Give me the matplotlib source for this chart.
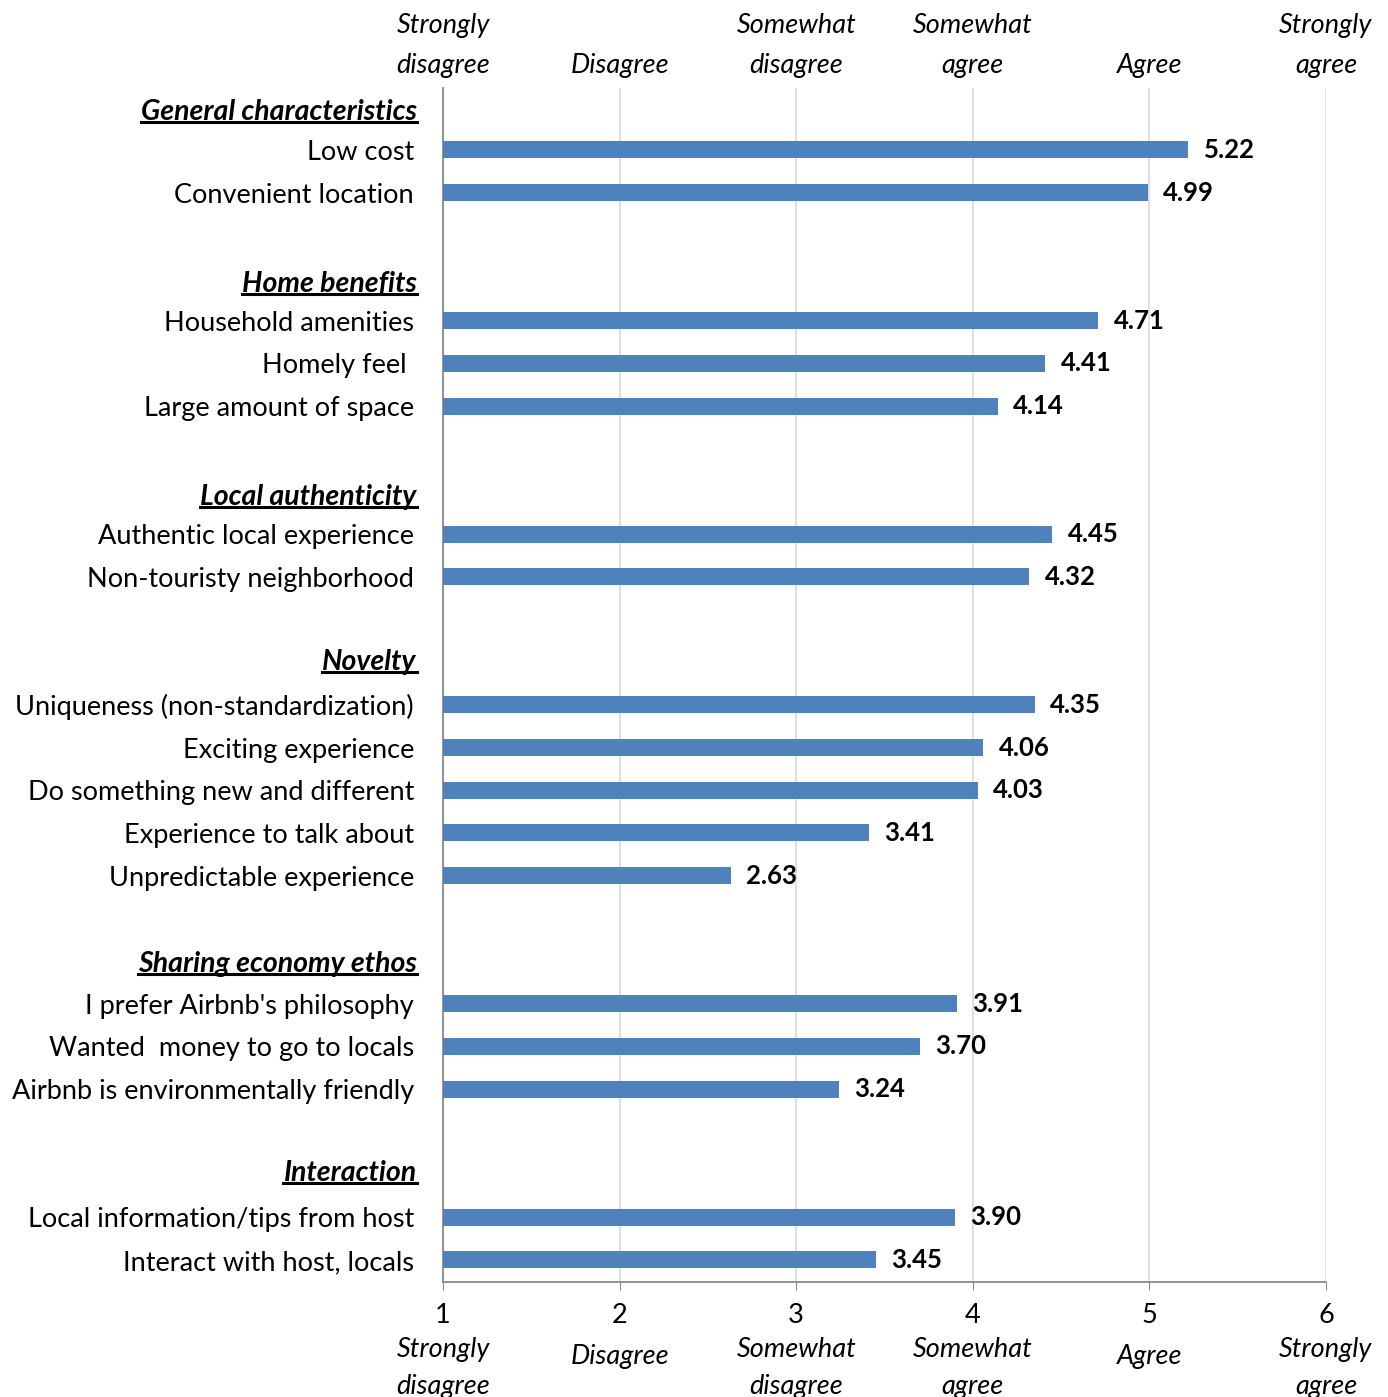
import matplotlib.pyplot as plt
from matplotlib.lines import Line2D
from matplotlib.transforms import blended_transform_factory

plt.rcParams['font.family'] = ['Lato', 'DejaVu Sans']

# data
items = ["Low cost", "Convenient location",
         "Household amenities", "Homely feel ", "Large amount of space",
         "Authentic local experience", "Non-touristy neighborhood",
         "Uniqueness (non-standardization)", "Exciting experience",
         "Do something new and different", "Experience to talk about",
         "Unpredictable experience",
         "I prefer Airbnb's philosophy", "Wanted  money to go to locals",
         "Airbnb is environmentally friendly",
         "Local information/tips from host", "Interact with host, locals"]
values = [5.22, 4.99, 4.71, 4.41, 4.14, 4.45, 4.32, 4.35, 4.06, 4.03, 3.41,
          2.63, 3.91, 3.70, 3.24, 3.90, 3.45]
slots = [0, 1, 4, 5, 6, 9, 10, 13, 14, 15, 16, 17, 20, 21, 22, 25, 26]

groups = ["General characteristics", "Home benefits", "Local authenticity",
          "Novelty", "Sharing economy ethos", "Interaction"]
group_pos = [-0.89, 3.14, 8.13, 11.99, 19.06, 23.96]

scale_ticks = [1, 2, 3, 4, 5, 6]
top_labels = ["Strongly\ndisagree", "Disagree", "Somewhat\ndisagree",
              "Somewhat\nagree", "Agree", "Strongly\nagree"]

bar_color = "#4F81BD"
fs = 19.5

fig = plt.figure(figsize=(13.88, 13.97), dpi=100)
ax = fig.add_axes([0.3192, 0.0823, 0.6361, 0.8547])

bars = ax.barh(slots, [v - 1 for v in values], left=1, height=0.4,
               color=bar_color, zorder=3)
ax.bar_label(bars, labels=[f"{v:.2f}" for v in values], padding=11,
             fontsize=18.5, fontweight='bold')

ax.set_xlim(1, 6)
ax.set_ylim(26.52, -1.45)
ax.set_xticks(scale_ticks)
ax.set_xticklabels([str(t) for t in scale_ticks], fontsize=fs)
ax.tick_params(axis='x', direction='out', length=6, color='#898989', pad=9)
ax.grid(axis='x', color='#D9D9D9', lw=1.2, zorder=0)
ax.set_axisbelow(True)

ax.set_yticks(slots)
ax.set_yticklabels(items, fontsize=fs)
ax.tick_params(axis='y', length=0, pad=21)

for s in ['top', 'right']:
    ax.spines[s].set_visible(False)
for s in ['left', 'bottom']:
    ax.spines[s].set_color('#898989')
    ax.spines[s].set_linewidth(1.3)

# top scale labels
sec = ax.secondary_xaxis('top')
sec.set_xticks(scale_ticks)
sec.set_xticklabels(top_labels, fontsize=fs, style='italic',
                    linespacing=1.75)
sec.tick_params(length=0, pad=7)
sec.spines['top'].set_visible(False)

# bottom scale labels
trans = blended_transform_factory(ax.transData, ax.transAxes)
for t, lab in zip(scale_ticks, top_labels):
    y = -0.046 if "\n" in lab else -0.052
    ax.text(t, y, lab, transform=trans, ha='center', va='top', fontsize=fs,
            style='italic', linespacing=1.6)

# group headings, underlined
htrans = blended_transform_factory(ax.transAxes, ax.transData)
heads = []
for g, p in zip(groups, group_pos):
    heads.append(ax.text(-0.030, p, g, transform=htrans, ha='right',
                         va='center', fontsize=20.5, fontweight='bold',
                         style='italic'))

fig.canvas.draw()
r = fig.canvas.get_renderer()
inv = fig.transFigure.inverted()
for h in heads:
    bb = h.get_window_extent(r)
    (x0, y0), (x1, _) = inv.transform([(bb.x0, bb.y0 + 3), (bb.x1, bb.y0)])
    fig.add_artist(Line2D([x0, x1], [y0, y0], color='black', lw=2.2,
                          transform=fig.transFigure))

fig.savefig("out.png", dpi=100)
